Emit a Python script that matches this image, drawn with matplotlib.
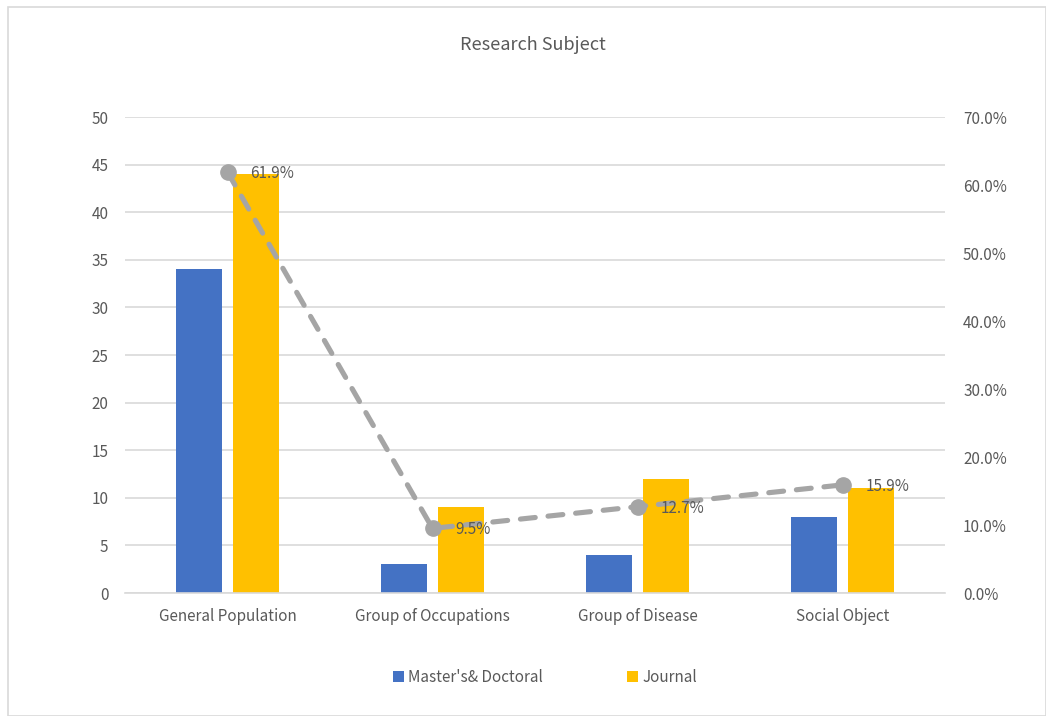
import matplotlib.pyplot as plt
from matplotlib.patches import Rectangle
from matplotlib.ticker import FuncFormatter
import numpy as np

plt.rcParams['font.family'] = ['Noto Sans CJK KR', 'DejaVu Sans']

# Data
categories = ['General Population', 'Group of Occupations', 'Group of Disease', 'Social Object']
thesis = [34, 3, 4, 8]
journal = [44, 9, 12, 11]
share = [61.9, 9.5, 12.7, 15.9]

text_col = '#595959'
grid_col = '#d9d9d9'
blue = '#4472c4'
gold = '#ffc000'
line_col = '#a5a5a5'

fig = plt.figure(figsize=(10.46, 7.16), dpi=100)
fig.patches.append(Rectangle((8 / 1046, 0), 1 - 8 / 1046, 1 - 7 / 716,
                             transform=fig.transFigure, fill=False,
                             edgecolor=grid_col, linewidth=1.2))

ax = fig.add_axes([125 / 1046, 123 / 716, 820 / 1046, 476 / 716])
x = np.arange(len(categories))
w = 0.224
off = 0.141
ax.bar(x - off, thesis, w, color=blue, label="Master's& Doctoral", zorder=2)
ax.bar(x + off, journal, w, color=gold, label='Journal', zorder=2)

ax.set_xlim(-0.5, 3.5)
ax.set_ylim(0, 50)
ax.set_yticks(range(0, 51, 5))
ax.set_xticks(x)
ax.set_xticklabels(categories)
ax.grid(axis='y', color=grid_col, linewidth=1.2, zorder=0)
for s in ['top', 'left', 'right']:
    ax.spines[s].set_visible(False)
ax.spines['bottom'].set_color(grid_col)
ax.spines['bottom'].set_linewidth(1.2)
ax.tick_params(axis='both', length=0, labelsize=11, colors=text_col)
ax.tick_params(axis='y', pad=12)
ax.tick_params(axis='x', pad=11)

ax2 = ax.twinx()
ax2.set_ylim(0, 70)
ax2.set_yticks(range(0, 71, 10))
ax2.yaxis.set_major_formatter(FuncFormatter(lambda v, p: f'{v:.1f}%'))
for s in ax2.spines.values():
    s.set_visible(False)
ax2.tick_params(axis='y', length=0, labelsize=11, colors=text_col, pad=13)

ax2.plot(x, share, color=line_col, linewidth=3.7, linestyle=(0, (2.9, 2.5)),
         dash_capstyle='round', marker='o', markersize=11, zorder=3)
for xi, v in zip(x, share):
    ax2.annotate(f'{v}%', (xi, v), xytext=(16.5, -1), textcoords='offset points',
                 va='center', ha='left', fontsize=11, color=text_col)

fig.text(533 / 1046, 1 - 45 / 716, 'Research Subject', ha='center', va='center',
         fontsize=13, color=text_col)

handles, labels = ax.get_legend_handles_labels()
fig.legend(handles, labels, loc='center', bbox_to_anchor=(545 / 1046, 1 - 677 / 716),
           ncol=2, frameon=False, fontsize=11, labelcolor=text_col,
           handlelength=0.7, handleheight=0.7, handletextpad=0.3, columnspacing=5.5)

fig.savefig('out.png', dpi=100)
